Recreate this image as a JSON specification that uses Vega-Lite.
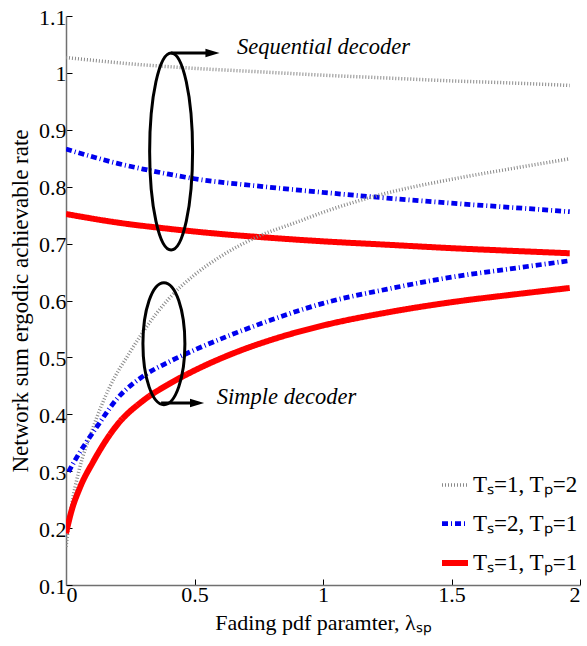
{
  "$schema": "https://vega.github.io/schema/vega-lite/v6.json",
  "width": 514,
  "height": 569,
  "autosize": {"type": "none"},
  "padding": {"left": 66, "top": 16, "right": 7, "bottom": 61},
  "background": "white",
  "config": {
    "view": {"stroke": null},
    "font": "Liberation Serif"
  },
  "datasets": {
    "curves": [
      {"series": "Tₛ=1, Tₚ=2", "decoder": "sequential", "x": 0, "y": 1.027},
      {"series": "Tₛ=1, Tₚ=2", "decoder": "sequential", "x": 0.25, "y": 1.016},
      {"series": "Tₛ=1, Tₚ=2", "decoder": "sequential", "x": 0.5, "y": 1.008},
      {"series": "Tₛ=1, Tₚ=2", "decoder": "sequential", "x": 0.75, "y": 1.002},
      {"series": "Tₛ=1, Tₚ=2", "decoder": "sequential", "x": 1.0, "y": 0.996},
      {"series": "Tₛ=1, Tₚ=2", "decoder": "sequential", "x": 1.25, "y": 0.991},
      {"series": "Tₛ=1, Tₚ=2", "decoder": "sequential", "x": 1.5, "y": 0.986},
      {"series": "Tₛ=1, Tₚ=2", "decoder": "sequential", "x": 1.75, "y": 0.982},
      {"series": "Tₛ=1, Tₚ=2", "decoder": "sequential", "x": 1.96, "y": 0.978},

      {"series": "Tₛ=2, Tₚ=1", "decoder": "sequential", "x": 0, "y": 0.866},
      {"series": "Tₛ=2, Tₚ=1", "decoder": "sequential", "x": 0.1, "y": 0.853},
      {"series": "Tₛ=2, Tₚ=1", "decoder": "sequential", "x": 0.2, "y": 0.841},
      {"series": "Tₛ=2, Tₚ=1", "decoder": "sequential", "x": 0.3, "y": 0.831},
      {"series": "Tₛ=2, Tₚ=1", "decoder": "sequential", "x": 0.4, "y": 0.822},
      {"series": "Tₛ=2, Tₚ=1", "decoder": "sequential", "x": 0.5, "y": 0.814},
      {"series": "Tₛ=2, Tₚ=1", "decoder": "sequential", "x": 0.75, "y": 0.801},
      {"series": "Tₛ=2, Tₚ=1", "decoder": "sequential", "x": 1.0, "y": 0.790},
      {"series": "Tₛ=2, Tₚ=1", "decoder": "sequential", "x": 1.25, "y": 0.780},
      {"series": "Tₛ=2, Tₚ=1", "decoder": "sequential", "x": 1.5, "y": 0.771},
      {"series": "Tₛ=2, Tₚ=1", "decoder": "sequential", "x": 1.75, "y": 0.763},
      {"series": "Tₛ=2, Tₚ=1", "decoder": "sequential", "x": 1.96, "y": 0.756},

      {"series": "Tₛ=1, Tₚ=1", "decoder": "sequential", "x": 0, "y": 0.752},
      {"series": "Tₛ=1, Tₚ=1", "decoder": "sequential", "x": 0.2, "y": 0.737},
      {"series": "Tₛ=1, Tₚ=1", "decoder": "sequential", "x": 0.4, "y": 0.726},
      {"series": "Tₛ=1, Tₚ=1", "decoder": "sequential", "x": 0.6, "y": 0.717},
      {"series": "Tₛ=1, Tₚ=1", "decoder": "sequential", "x": 0.8, "y": 0.710},
      {"series": "Tₛ=1, Tₚ=1", "decoder": "sequential", "x": 1.0, "y": 0.704},
      {"series": "Tₛ=1, Tₚ=1", "decoder": "sequential", "x": 1.25, "y": 0.698},
      {"series": "Tₛ=1, Tₚ=1", "decoder": "sequential", "x": 1.5, "y": 0.692},
      {"series": "Tₛ=1, Tₚ=1", "decoder": "sequential", "x": 1.75, "y": 0.687},
      {"series": "Tₛ=1, Tₚ=1", "decoder": "sequential", "x": 1.96, "y": 0.683},

      {"series": "Tₛ=1, Tₚ=2", "decoder": "simple", "x": 0, "y": 0.167},
      {"series": "Tₛ=1, Tₚ=2", "decoder": "simple", "x": 0.02, "y": 0.235},
      {"series": "Tₛ=1, Tₚ=2", "decoder": "simple", "x": 0.05, "y": 0.300},
      {"series": "Tₛ=1, Tₚ=2", "decoder": "simple", "x": 0.1, "y": 0.370},
      {"series": "Tₛ=1, Tₚ=2", "decoder": "simple", "x": 0.17, "y": 0.448},
      {"series": "Tₛ=1, Tₚ=2", "decoder": "simple", "x": 0.25, "y": 0.510},
      {"series": "Tₛ=1, Tₚ=2", "decoder": "simple", "x": 0.3, "y": 0.545},
      {"series": "Tₛ=1, Tₚ=2", "decoder": "simple", "x": 0.4, "y": 0.603},
      {"series": "Tₛ=1, Tₚ=2", "decoder": "simple", "x": 0.5, "y": 0.645},
      {"series": "Tₛ=1, Tₚ=2", "decoder": "simple", "x": 0.6, "y": 0.677},
      {"series": "Tₛ=1, Tₚ=2", "decoder": "simple", "x": 0.75, "y": 0.713},
      {"series": "Tₛ=1, Tₚ=2", "decoder": "simple", "x": 0.9, "y": 0.738},
      {"series": "Tₛ=1, Tₚ=2", "decoder": "simple", "x": 1.0, "y": 0.755},
      {"series": "Tₛ=1, Tₚ=2", "decoder": "simple", "x": 1.25, "y": 0.789},
      {"series": "Tₛ=1, Tₚ=2", "decoder": "simple", "x": 1.5, "y": 0.813},
      {"series": "Tₛ=1, Tₚ=2", "decoder": "simple", "x": 1.75, "y": 0.833},
      {"series": "Tₛ=1, Tₚ=2", "decoder": "simple", "x": 1.96, "y": 0.849},

      {"series": "Tₛ=2, Tₚ=1", "decoder": "simple", "x": 0.01, "y": 0.299},
      {"series": "Tₛ=2, Tₚ=1", "decoder": "simple", "x": 0.04, "y": 0.323},
      {"series": "Tₛ=2, Tₚ=1", "decoder": "simple", "x": 0.12, "y": 0.378},
      {"series": "Tₛ=2, Tₚ=1", "decoder": "simple", "x": 0.2, "y": 0.428},
      {"series": "Tₛ=2, Tₚ=1", "decoder": "simple", "x": 0.3, "y": 0.467},
      {"series": "Tₛ=2, Tₚ=1", "decoder": "simple", "x": 0.4, "y": 0.492},
      {"series": "Tₛ=2, Tₚ=1", "decoder": "simple", "x": 0.5, "y": 0.513},
      {"series": "Tₛ=2, Tₚ=1", "decoder": "simple", "x": 0.65, "y": 0.541},
      {"series": "Tₛ=2, Tₚ=1", "decoder": "simple", "x": 0.8, "y": 0.566},
      {"series": "Tₛ=2, Tₚ=1", "decoder": "simple", "x": 1.0, "y": 0.595},
      {"series": "Tₛ=2, Tₚ=1", "decoder": "simple", "x": 1.25, "y": 0.620},
      {"series": "Tₛ=2, Tₚ=1", "decoder": "simple", "x": 1.5, "y": 0.641},
      {"series": "Tₛ=2, Tₚ=1", "decoder": "simple", "x": 1.75, "y": 0.657},
      {"series": "Tₛ=2, Tₚ=1", "decoder": "simple", "x": 1.96, "y": 0.670},

      {"series": "Tₛ=1, Tₚ=1", "decoder": "simple", "x": 0, "y": 0.191},
      {"series": "Tₛ=1, Tₚ=1", "decoder": "simple", "x": 0.02, "y": 0.228},
      {"series": "Tₛ=1, Tₚ=1", "decoder": "simple", "x": 0.055, "y": 0.272},
      {"series": "Tₛ=1, Tₚ=1", "decoder": "simple", "x": 0.105, "y": 0.316},
      {"series": "Tₛ=1, Tₚ=1", "decoder": "simple", "x": 0.2, "y": 0.382},
      {"series": "Tₛ=1, Tₚ=1", "decoder": "simple", "x": 0.3, "y": 0.424},
      {"series": "Tₛ=1, Tₚ=1", "decoder": "simple", "x": 0.4, "y": 0.453},
      {"series": "Tₛ=1, Tₚ=1", "decoder": "simple", "x": 0.5, "y": 0.477},
      {"series": "Tₛ=1, Tₚ=1", "decoder": "simple", "x": 0.65, "y": 0.507},
      {"series": "Tₛ=1, Tₚ=1", "decoder": "simple", "x": 0.8, "y": 0.531},
      {"series": "Tₛ=1, Tₚ=1", "decoder": "simple", "x": 1.0, "y": 0.556},
      {"series": "Tₛ=1, Tₚ=1", "decoder": "simple", "x": 1.25, "y": 0.579},
      {"series": "Tₛ=1, Tₚ=1", "decoder": "simple", "x": 1.5, "y": 0.597},
      {"series": "Tₛ=1, Tₚ=1", "decoder": "simple", "x": 1.75, "y": 0.611},
      {"series": "Tₛ=1, Tₚ=1", "decoder": "simple", "x": 1.96, "y": 0.622}
    ]
  },
  "layer": [
    {
      "data": {"name": "curves"},
      "mark": {"type": "line", "interpolate": "monotone", "clip": true},
      "encoding": {
        "x": {
          "field": "x", "type": "quantitative",
          "scale": {"domain": [0, 2], "nice": false, "zero": false},
          "axis": {
            "values": [0, 0.5, 1, 1.5, 2], "format": "~g", "labelPadding": 5,
            "labelFont": "Liberation Serif", "labelFontSize": 22, "labelColor": "black",
            "title": "Fading pdf paramter, λₛₚ", "titleY": 44, "titleBaseline": "alphabetic",
            "titleFont": "Liberation Serif", "titleFontSize": 22, "titleFontWeight": "normal", "titleColor": "black",
            "domainColor": "#707070", "domainWidth": 1.5, "tickColor": "black", "tickSize": -6, "grid": false
          }
        },
        "y": {
          "field": "y", "type": "quantitative",
          "scale": {"domain": [0.1, 1.1], "nice": false, "zero": false},
          "axis": {
            "values": [0.1, 0.2, 0.3, 0.4, 0.5, 0.6, 0.7, 0.8, 0.9, 1, 1.1], "format": "~g", "labelPadding": 6, "labelOffset": 1,
            "labelFont": "Liberation Serif", "labelFontSize": 22, "labelColor": "black",
            "title": "Network sum ergodic achievable rate", "titleX": -46, "titleBaseline": "middle",
            "titleFont": "Liberation Serif", "titleFontSize": 23, "titleFontWeight": "normal", "titleColor": "black",
            "domainColor": "#707070", "domainWidth": 1.5, "tickColor": "black", "tickSize": -6, "grid": false
          }
        },
        "color": {
          "field": "series", "type": "nominal",
          "scale": {"domain": ["Tₛ=1, Tₚ=2", "Tₛ=2, Tₚ=1", "Tₛ=1, Tₚ=1"], "range": ["#8a8a8a", "#0000ee", "#ff0000"]},
          "legend": {
            "title": null, "orient": "none", "legendX": 373, "legendY": 454,
            "symbolType": "stroke", "symbolSize": 676, "labelFontSize": 23, "labelFont": "Liberation Serif",
            "labelColor": "black", "rowPadding": 11, "padding": 0, "labelOffset": 2, "symbolOpacity": 1
          }
        },
        "strokeDash": {
          "field": "series", "type": "nominal",
          "scale": {"domain": ["Tₛ=1, Tₚ=2", "Tₛ=2, Tₚ=1", "Tₛ=1, Tₚ=1"], "range": [[1, 2], [6, 3, 1, 3], [1, 0]]}
        },
        "strokeWidth": {
          "field": "series", "type": "nominal",
          "scale": {"domain": ["Tₛ=1, Tₚ=2", "Tₛ=2, Tₚ=1", "Tₛ=1, Tₚ=1"], "range": [3.5, 6, 3.5]}
        },
        "detail": {"field": "decoder"},
        "order": {"field": "x", "type": "quantitative"}
      }
    },
    {
      "data": {"values": [{"x": 0.409, "y": 0.862}]},
      "mark": {"type": "point", "shape": "M0,-1 A0.218,1 0 1,0 0,1 A0.218,1 0 1,0 0,-1 Z", "size": 38809, "filled": false, "stroke": "black", "strokeWidth": 3, "opacity": 1},
      "encoding": {"x": {"field": "x", "type": "quantitative"}, "y": {"field": "y", "type": "quantitative"}}
    },
    {
      "data": {"values": [{"x": 0.381, "y": 0.524}]},
      "mark": {"type": "point", "shape": "M0,-1 A0.344,1 0 1,0 0,1 A0.344,1 0 1,0 0,-1 Z", "size": 14884, "filled": false, "stroke": "black", "strokeWidth": 3, "opacity": 1},
      "encoding": {"x": {"field": "x", "type": "quantitative"}, "y": {"field": "y", "type": "quantitative"}}
    },
    {
      "data": {"values": [{"x": 0.409, "x2": 0.56, "y": 1.035}, {"x": 0.37, "x2": 0.5, "y": 0.42}]},
      "mark": {"type": "rule", "stroke": "black", "strokeWidth": 3},
      "encoding": {"x": {"field": "x", "type": "quantitative"}, "x2": {"field": "x2"}, "y": {"field": "y", "type": "quantitative"}}
    },
    {
      "data": {"values": [{"x": 0.57, "y": 1.035}, {"x": 0.51, "y": 0.42}]},
      "mark": {"type": "point", "shape": "M-1,-0.6 L1,0 L-1,0.6 Z", "size": 200, "filled": true, "color": "black", "opacity": 1},
      "encoding": {"x": {"field": "x", "type": "quantitative"}, "y": {"field": "y", "type": "quantitative"}}
    },
    {
      "data": {"values": [{"x": 0.665, "y": 1.046, "label": "Sequential decoder"}, {"x": 0.587, "y": 0.430, "label": "Simple decoder"}]},
      "mark": {"type": "text", "align": "left", "baseline": "middle", "fontStyle": "italic", "fontSize": 22.5, "font": "Liberation Serif", "color": "black"},
      "encoding": {"x": {"field": "x", "type": "quantitative"}, "y": {"field": "y", "type": "quantitative"}, "text": {"field": "label"}}
    }
  ]
}
